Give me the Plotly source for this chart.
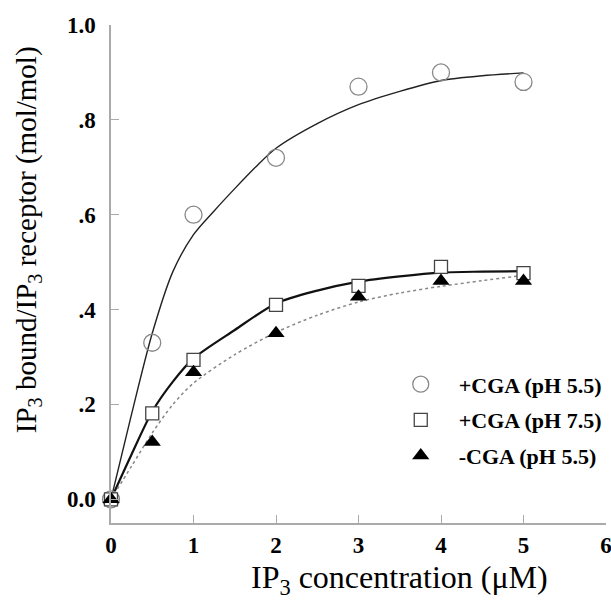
import plotly.graph_objects as go

# measured data
conc = [0, 0.5, 1, 2, 3, 4, 5]
cga_ph55 = [0, 0.33, 0.60, 0.72, 0.87, 0.90, 0.88]
cga_ph75 = [0, 0.181, 0.294, 0.41, 0.45, 0.49, 0.477]
nocga_ph55 = [0, 0.121, 0.268, 0.35, 0.427, 0.46, 0.46]

# fitted curves
fit_x_top = [0, 0.25, 0.5, 0.75, 1, 1.25, 1.5, 1.75, 2, 2.5, 3, 3.5, 4, 4.5, 5]
fit_y_top = [0, 0.18, 0.35, 0.48, 0.558, 0.608, 0.655, 0.70, 0.74, 0.792, 0.832, 0.86, 0.883, 0.893, 0.899]
fit_x = [0, 0.25, 0.5, 0.75, 1, 1.5, 2, 2.5, 3, 3.5, 4, 4.5, 5]
fit_y_mid = [0, 0.095, 0.185, 0.248, 0.297, 0.357, 0.413, 0.44, 0.459, 0.47, 0.478, 0.48, 0.481]
fit_y_dot = [0, 0.07, 0.14, 0.20, 0.245, 0.305, 0.352, 0.388, 0.416, 0.435, 0.449, 0.461, 0.472]

x_ticks = [0, 1, 2, 3, 4, 5, 6]
y_ticks = [0, 0.2, 0.4, 0.6, 0.8, 1.0]
y_ticktext = ["0.0", ".2", ".4", ".6", ".8", "1.0"]

names = ["+CGA (pH 5.5)", "+CGA (pH 7.5)", "-CGA (pH 5.5)"]
x_title = "IP<sub>3</sub> concentration (μM)"
y_title = "IP<sub>3</sub> bound/IP<sub>3</sub> receptor (mol/mol)"

FONT = "Liberation Serif"

fig = go.Figure()
fig.add_trace(go.Scatter(x=fit_x_top, y=fit_y_top, mode="lines", line=dict(color="#222", width=1.4, shape="spline", smoothing=0.8),
                         showlegend=False, hoverinfo="skip", cliponaxis=False))
fig.add_trace(go.Scatter(x=fit_x, y=fit_y_mid, mode="lines", line=dict(color="#111", width=2.2, shape="spline", smoothing=0.8),
                         showlegend=False, hoverinfo="skip", cliponaxis=False))
fig.add_trace(go.Scatter(x=fit_x, y=fit_y_dot, mode="lines", line=dict(color="#888", width=1.5, dash="dot", shape="spline", smoothing=0.8),
                         showlegend=False, hoverinfo="skip", cliponaxis=False))

fig.add_trace(go.Scatter(x=conc, y=cga_ph55, mode="markers", name=names[0], legendgroup="a",
                         marker=dict(symbol="circle-open", size=17, color="#888", line=dict(width=1.3, color="#888")),
                         cliponaxis=False))
fig.add_trace(go.Scatter(x=conc, y=cga_ph75, mode="markers", name=names[1], legendgroup="b",
                         marker=dict(symbol="square", size=13, color="white", line=dict(width=1.3, color="#444")),
                         cliponaxis=False))
fig.add_trace(go.Scatter(x=conc, y=nocga_ph55, mode="markers", name=names[2], legendgroup="c",
                         marker=dict(symbol="triangle-up", size=15, color="black", line=dict(width=0)),
                         cliponaxis=False))

axis_common = dict(showgrid=False, zeroline=False, showline=True, linecolor="#aaa", linewidth=1.5,
                   ticks="inside", ticklen=8, tickcolor="#aaa", tickwidth=1.3, ticklabeloverflow="allow",
                   automargin=False,
                   tickfont=dict(family=FONT, size=23, color="black", weight="bold"))

fig.update_layout(
    width=611, height=604,
    margin=dict(l=111, r=5, t=25, b=81, autoexpand=False),
    paper_bgcolor="white", plot_bgcolor="white",
    xaxis=dict(range=[0, 6], tickvals=x_ticks, ticklabelstandoff=1, **axis_common),
    yaxis=dict(range=[-0.05, 1.0], tickvals=y_ticks, ticktext=y_ticktext, ticklabelstandoff=9, **axis_common),
    legend=dict(x=0.549, y=0.207, xanchor="left", yanchor="middle", bgcolor="rgba(0,0,0,0)", itemwidth=66,
                font=dict(family=FONT, size=22, color="black", weight="bold"), tracegroupgap=4),
    showlegend=True,
    annotations=[
        dict(text=x_title, xref="paper", yref="paper", x=0.583, y=-0.113, xanchor="center", yanchor="middle",
             showarrow=False, font=dict(family=FONT, size=32, color="black")),
        dict(text=y_title, xref="paper", yref="paper", x=-0.1675, y=0.568, xanchor="center", yanchor="middle",
             textangle=-90, showarrow=False, font=dict(family=FONT, size=29, color="black")),
    ],
)

fig.write_html("out.html")
